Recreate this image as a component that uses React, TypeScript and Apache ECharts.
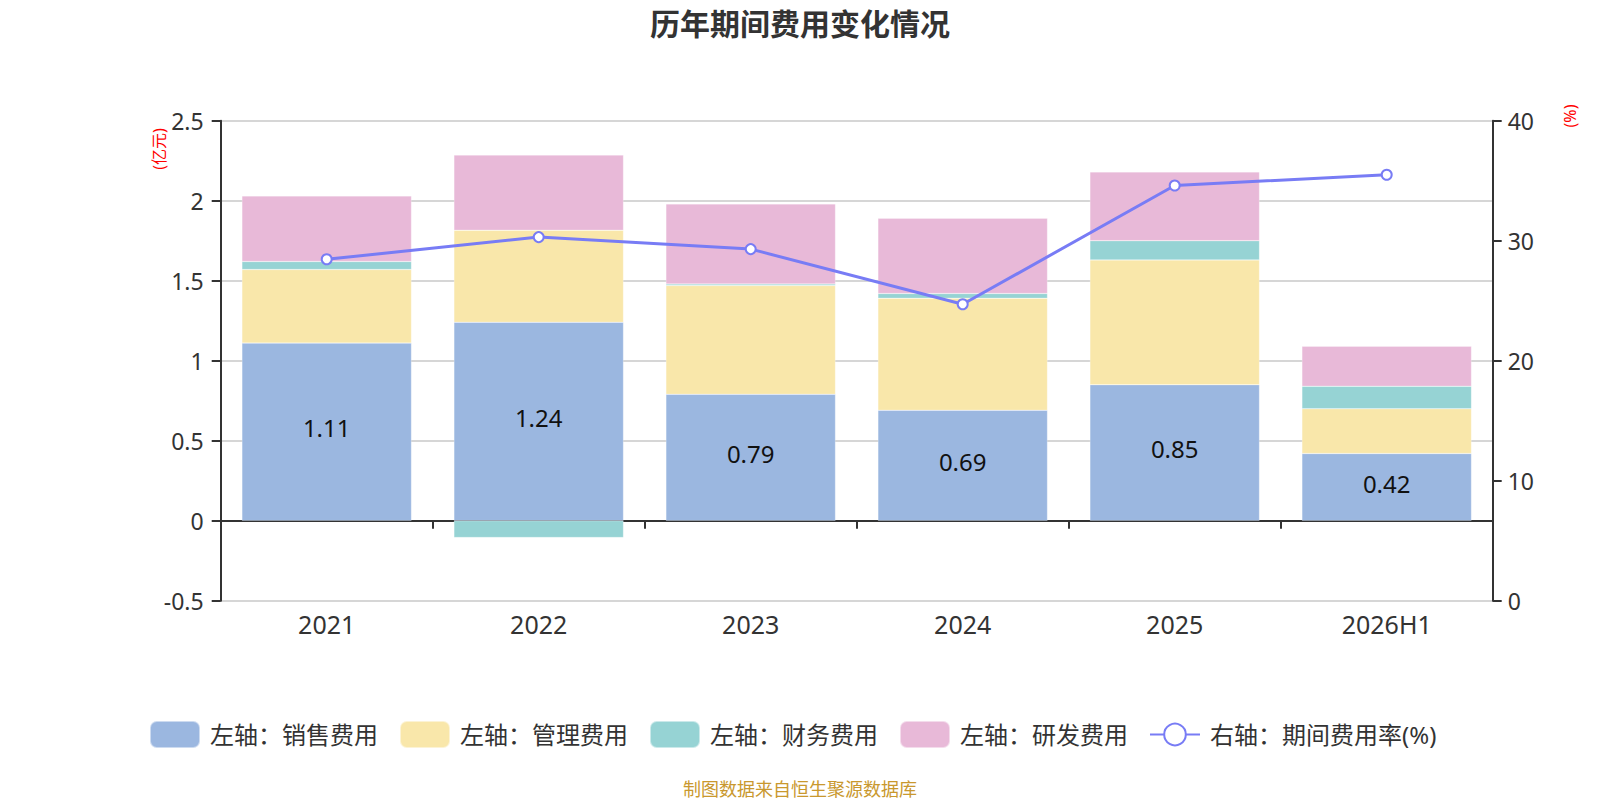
import React, { useEffect, useRef } from "react";
import * as echarts from "echarts";

const categories = ["2021", "2022", "2023", "2024", "2025", "2026H1"];
const salesExpense = [1.11, 1.24, 0.79, 0.69, 0.85, 0.42];
const adminExpense = [0.46, 0.575, 0.68, 0.70, 0.78, 0.28];
const financeExpense = [0.05, -0.105, 0.01, 0.03, 0.12, 0.14];
const rdExpense = [0.41, 0.47, 0.50, 0.47, 0.43, 0.25];
const expenseRate = [28.45, 30.3, 29.3, 24.7, 34.6, 35.5];
const leftTicks = { min: -0.5, max: 2.5, interval: 0.5 };
const rightTicks = { min: 0, max: 40, interval: 10 };

const FONT = "'Noto Sans', 'Noto Sans CJK SC', sans-serif";
const COLORS = {
  sales: "#9bb7e0",
  admin: "#f9e7aa",
  finance: "#96d3d4",
  rd: "#e8b9d8",
  rate: "#787cf5",
};

export default function App() {
  const ref = useRef<HTMLDivElement>(null);

  useEffect(() => {
    document.body.style.margin = "0";
    if (!ref.current) return;
    const chart = echarts.init(ref.current, undefined, { renderer: "svg" });

    const barSeries = (name: string, data: number[], color: string, withLabel = false) => ({
      name,
      type: "bar",
      stack: "total",
      xAxisIndex: 0,
      yAxisIndex: 0,
      barWidth: "80%",
      data,
      itemStyle: { color, borderColor: "rgba(255,255,255,0.5)", borderWidth: 0.5 },
      label: withLabel
        ? {
            show: true,
            position: "inside",
            offset: [0, -4],
            fontSize: 24,
            color: "#111",
            fontFamily: FONT,
            formatter: (p: any) => Number(p.value).toFixed(2),
          }
        : { show: false },
      z: 2,
    });

    chart.setOption({
      animation: false,
      title: {
        text: "历年期间费用变化情况",
        left: "center",
        top: 3,
        textStyle: { fontSize: 30, fontWeight: "bold", color: "#333", fontFamily: FONT },
      },
      grid: { left: 220.7, right: 107.3, top: 120.7, bottom: 199.3 },
      legend: {
        top: 715,
        left: 144,
        itemWidth: 50,
        itemHeight: 27,
        itemGap: 21,
        textStyle: { fontSize: 24, color: "#333", fontFamily: FONT, padding: [0, 0, 0, 5] },
        data: [
          { name: "左轴：销售费用", icon: "roundRect" },
          { name: "左轴：管理费用", icon: "roundRect" },
          { name: "左轴：财务费用", icon: "roundRect" },
          { name: "左轴：研发费用", icon: "roundRect" },
          { name: "右轴：期间费用率(%)" },
        ],
      },
      xAxis: [
        {
          type: "category",
          data: categories,
          position: "bottom",
          axisLine: { show: false, onZero: false },
          axisTick: { show: false },
          axisLabel: { fontSize: 25, color: "#333", margin: 11, fontFamily: FONT },
        },
        {
          type: "category",
          data: categories,
          position: "bottom",
          axisLine: { show: true, onZero: true, onZeroAxisIndex: 0, lineStyle: { color: "#333", width: 2 } },
          axisTick: { show: true, length: 8, lineStyle: { color: "#333", width: 2 } },
          axisLabel: { show: false },
          splitLine: { show: false },
        },
      ],
      yAxis: [
        {
          type: "value",
          position: "left",
          min: leftTicks.min,
          max: leftTicks.max,
          interval: leftTicks.interval,
          axisLine: { show: true, lineStyle: { color: "#333", width: 2 } },
          axisTick: { show: true, length: 9, lineStyle: { color: "#333", width: 2 } },
          axisLabel: { fontSize: 23, color: "#333", margin: 17, fontFamily: FONT },
          splitLine: { show: true, lineStyle: { color: "#c8c8c8", width: 1.5 } },
        },
        {
          type: "value",
          position: "right",
          min: rightTicks.min,
          max: rightTicks.max,
          interval: rightTicks.interval,
          axisLine: { show: true, lineStyle: { color: "#333", width: 2 } },
          axisTick: { show: true, length: 9, lineStyle: { color: "#333", width: 2 } },
          axisLabel: { fontSize: 23, color: "#333", margin: 15, fontFamily: FONT },
          splitLine: { show: false },
        },
      ],
      graphic: [
        {
          type: "text",
          x: 159,
          y: 149,
          rotation: Math.PI / 2,
          style: {
            text: "(亿元)",
            fill: "#ff0000",
            fontSize: 16,
            fontFamily: FONT,
            align: "center",
            verticalAlign: "middle",
          },
        },
        {
          type: "text",
          x: 1570,
          y: 116,
          rotation: Math.PI / 2,
          style: {
            text: "(%)",
            fill: "#ff0000",
            fontSize: 16,
            fontFamily: FONT,
            align: "center",
            verticalAlign: "middle",
          },
        },
        {
          type: "text",
          x: 800,
          y: 789,
          style: {
            text: "制图数据来自恒生聚源数据库",
            fill: "#c9982e",
            fontSize: 18,
            fontFamily: FONT,
            align: "center",
            verticalAlign: "middle",
          },
        },
      ],
      series: [
        barSeries("左轴：销售费用", salesExpense, COLORS.sales, true),
        barSeries("左轴：管理费用", adminExpense, COLORS.admin),
        barSeries("左轴：财务费用", financeExpense, COLORS.finance),
        barSeries("左轴：研发费用", rdExpense, COLORS.rd),
        {
          name: "右轴：期间费用率(%)",
          type: "line",
          xAxisIndex: 0,
          yAxisIndex: 1,
          data: expenseRate,
          symbol: "emptyCircle",
          symbolSize: 10,
          showSymbol: true,
          lineStyle: { color: COLORS.rate, width: 3 },
          itemStyle: { color: COLORS.rate, borderWidth: 2 },
          z: 5,
        },
      ],
    });

    return () => chart.dispose();
  }, []);

  return <div ref={ref} style={{ width: 1600, height: 800 }} />;
}
